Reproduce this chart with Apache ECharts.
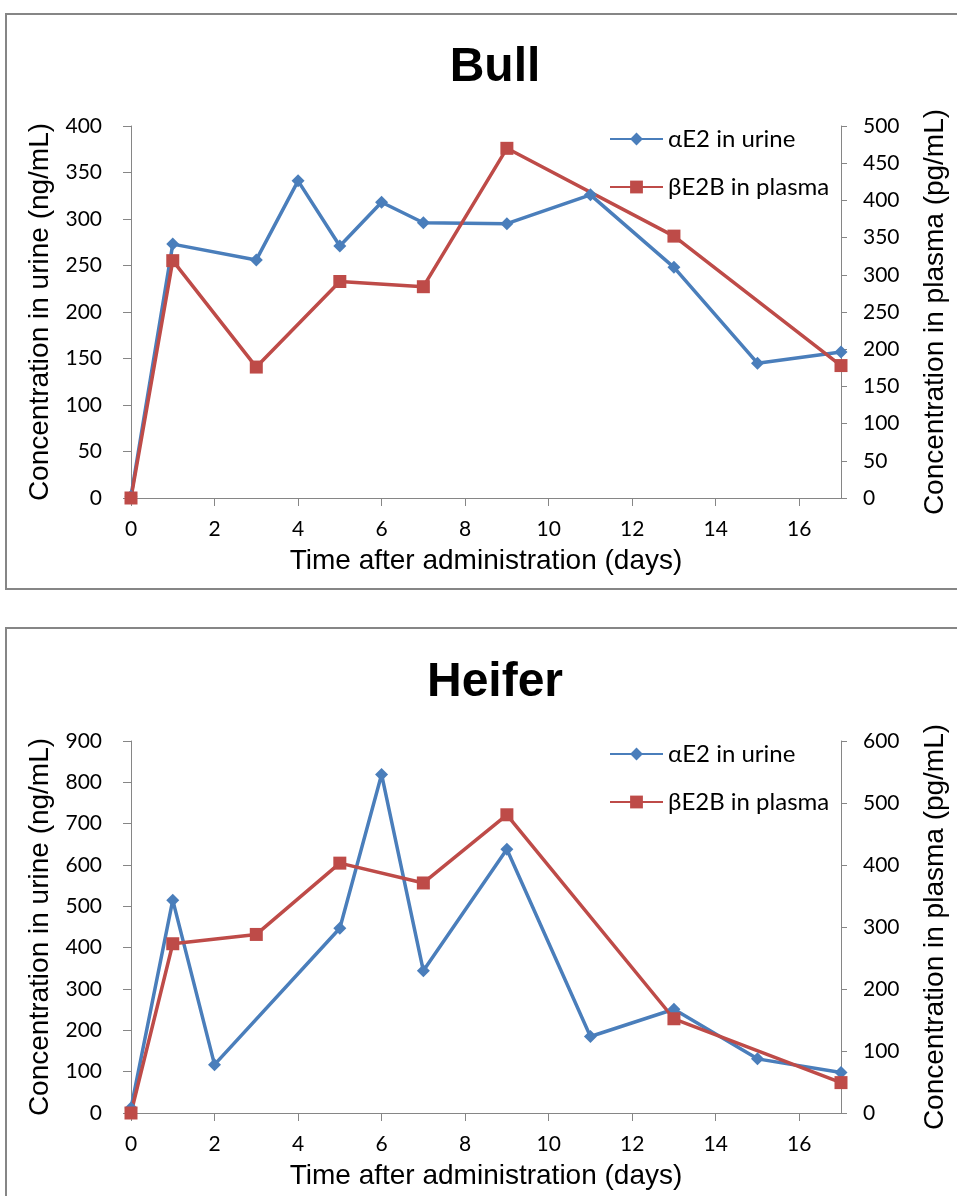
<!DOCTYPE html>
<html><head><meta charset="utf-8">
<script src="https://cdn.jsdelivr.net/npm/echarts@6/dist/echarts.min.js"></script>
<style>html,body{margin:0;padding:0;background:#fff;} #c{width:957px;height:1196px;}</style>
</head><body><div id="c"></div>
<script>
// ---- data ----
const bullUrineDays = [0, 1, 3, 4, 5, 6, 7, 9, 11, 13, 15, 17];
const bullUrine = [2, 273, 256, 341, 271, 318, 296, 295, 326, 248, 145, 157];
const bullPlasmaDays = [0, 1, 3, 5, 7, 9, 13, 17];
const bullPlasma = [0, 319, 176, 291, 284, 470, 352, 178];

const heiferUrineDays = [0, 1, 2, 5, 6, 7, 9, 11, 13, 15, 17];
const heiferUrine = [12, 515, 117, 447, 819, 344, 638, 185, 251, 131, 98];
const heiferPlasmaDays = [0, 1, 3, 5, 7, 9, 13, 17];
const heiferPlasma = [0, 273, 288, 403, 371, 481, 152, 49];

const titles = ['Bull', 'Heifer'];
const seriesNames = ['\u03B1E2 in urine', '\u03B2E2B in plasma'];
const xAxisName = 'Time after administration (days)';
const leftAxisName = 'Concentration in urine (ng/mL)';
const rightAxisName = 'Concentration in plasma (pg/mL)';

// ---- styling ----
const BLUE = '#4A7EBB', RED = '#BE4B48', AXIS = '#868686';
const TICKFONT = 'Lato, "Liberation Sans", sans-serif';
const NAMEFONT = '"Liberation Sans", Arial, sans-serif';
const zip = (xs, ys) => xs.map((x, i) => [x, ys[i]]);

const grids = [
  { left: 131, top: 126, width: 712, height: 372 },
  { left: 131, top: 741, width: 712, height: 372 }
];

function xAxis(gi) {
  return {
    type: 'value', gridIndex: gi, min: 0, max: 17, interval: 2,
    axisLine: { show: true, lineStyle: { color: AXIS, width: 1 } },
    axisTick: { show: true, length: 8, lineStyle: { color: AXIS } },
    axisLabel: { showMaxLabel: false, color: '#000', fontSize: 21, fontFamily: TICKFONT, margin: 21 },
    splitLine: { show: false },
    name: xAxisName, nameLocation: 'middle', nameGap: 49,
    nameTextStyle: { fontSize: 28, color: '#000', fontFamily: NAMEFONT }
  };
}
function yAxis(gi, pos, max, interval, name) {
  const left = pos === 'left';
  return {
    type: 'value', gridIndex: gi, position: pos, min: 0, max: max, interval: interval,
    axisLine: { show: true, onZero: false, lineStyle: { color: AXIS, width: 1 } },
    axisTick: { show: true, length: left ? 8 : 6, lineStyle: { color: AXIS } },
    axisLabel: { color: '#000', fontSize: 21, fontFamily: TICKFONT, margin: left ? 29 : 22 },
    splitLine: { show: false },
    name: name, nameLocation: 'middle', nameGap: left ? 66 : 80,
    nameTextStyle: { fontSize: 28, color: '#000', fontFamily: NAMEFONT }
  };
}
function lineSeries(name, data, xi, yi, color, symbol, size) {
  return {
    type: 'line', name: name, xAxisIndex: xi, yAxisIndex: yi, data: data,
    symbol: symbol, symbolSize: size, showAllSymbol: true,
    lineStyle: { color: color, width: 3.5 },
    itemStyle: { color: color },
    emphasis: { disabled: true }, animation: false
  };
}

const chart = echarts.init(document.getElementById('c'), null, { renderer: 'canvas' });
chart.setOption({
  animation: false,
  backgroundColor: '#fff',
  title: titles.map((t, i) => ({
    text: t, left: 490, top: i === 0 ? 39 : 654, textAlign: 'center',
    textStyle: { fontSize: 48, fontWeight: 'bold', color: '#000', fontFamily: NAMEFONT }
  })),
  legend: [0, 1].map(i => ({
    data: seriesNames, orient: 'vertical', left: 604, top: (i === 0 ? 121 : 736),
    itemWidth: 53, itemHeight: 16, itemGap: 22,
    textStyle: { fontSize: 24, color: '#000', fontFamily: TICKFONT, lineHeight: 26 },
    selectedMode: false
  })),
  grid: grids,
  xAxis: [xAxis(0), xAxis(1)],
  yAxis: [
    yAxis(0, 'left', 400, 50, leftAxisName),
    yAxis(0, 'right', 500, 50, rightAxisName),
    yAxis(1, 'left', 900, 100, leftAxisName),
    yAxis(1, 'right', 600, 100, rightAxisName)
  ],
  series: [
    lineSeries(seriesNames[0], zip(bullUrineDays, bullUrine), 0, 0, BLUE, 'diamond', 13),
    lineSeries(seriesNames[1], zip(bullPlasmaDays, bullPlasma), 0, 1, RED, 'rect', 13),
    lineSeries(seriesNames[0], zip(heiferUrineDays, heiferUrine), 1, 2, BLUE, 'diamond', 13),
    lineSeries(seriesNames[1], zip(heiferPlasmaDays, heiferPlasma), 1, 3, RED, 'rect', 13)
  ],
  graphic: [
    { type: 'rect', shape: { x: 6, y: 14, width: 980, height: 575 }, style: { fill: 'none', stroke: AXIS, lineWidth: 2 }, silent: true },
    { type: 'rect', shape: { x: 6, y: 628, width: 980, height: 620 }, style: { fill: 'none', stroke: AXIS, lineWidth: 2 }, silent: true }
  ]
});
</script>
</body></html>
